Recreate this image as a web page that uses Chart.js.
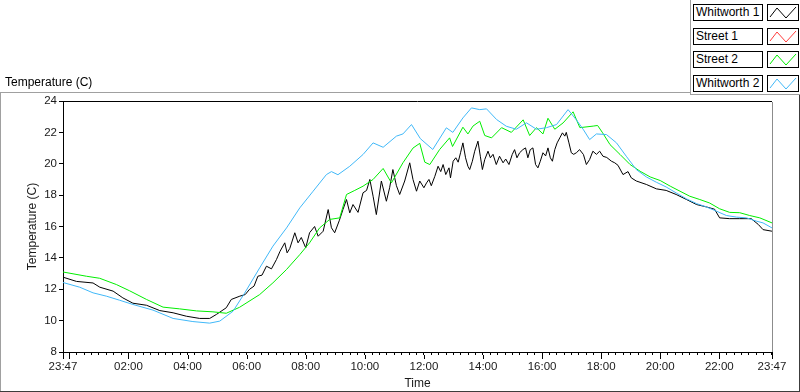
<!DOCTYPE html>
<html>
<head>
<meta charset="utf-8">
<script src="https://cdn.jsdelivr.net/npm/chart.js@4.4.0/dist/chart.umd.min.js"></script>
<style>
  body { margin: 0; background: #fff; font-family: "Liberation Sans", Arial, sans-serif; }
  #wrap { position: relative; width: 800px; height: 392px; overflow: hidden; }
  #c { position: absolute; left: 0; top: 0; }
  .ln { position: absolute; }
  .title { position: absolute; left: 5px; top: 75px; font-size: 12px; line-height: 14px; color: #000; }
  .name { position: absolute; left: 693px; width: 70px; height: 17px; box-sizing: border-box;
          border: 1px solid #000; font-size: 12px; line-height: 15px; padding-left: 2px; background: #fff; }
  .sample { position: absolute; left: 767px; width: 32px; height: 17px; box-sizing: border-box;
            border: 1px solid #000; background: #fff; }
</style>
</head>
<body>
<div id="wrap">
  <canvas id="c" width="800" height="392"></canvas>
  <div class="ln" style="left:0;top:92px;width:690px;height:1px;background:#a0a0a0"></div>
  <div class="ln" style="left:0;top:92px;width:1px;height:300px;background:#a0a0a0"></div>
  <div class="ln" style="left:690px;top:0;width:1px;height:95px;background:#a0a0a0"></div>
  <div class="ln" style="left:690px;top:94px;width:110px;height:1px;background:#a0a0a0"></div>
  <div class="ln" style="left:799px;top:95px;width:1px;height:297px;background:#3c3c3c"></div>
  <div class="ln" style="left:0;top:391px;width:800px;height:1px;background:#3c3c3c"></div>
  <div class="title">Temperature (C)</div>
  <div id="legend"></div>
</div>
<script>
// time axis is in hours since midnight; the record runs 23:47 -> 23:47
const startHour = -13 / 60;
const endHour = 23 + 47 / 60;

const seriesNames = ['Whitworth 1', 'Street 1', 'Street 2', 'Whitworth 2'];
const seriesColors = ['#000000', '#ff3c3c', '#00ee00', '#40b8f8'];

const xLabelHours = [startHour, 2, 4, 6, 8, 10, 12, 14, 16, 18, 20, 22, endHour];
const xLabels = ['23:47', '02:00', '04:00', '06:00', '08:00', '10:00', '12:00', '14:00', '16:00', '18:00', '20:00', '22:00', '23:47'];
const xMajorHours = [startHour, 0, 2, 4, 6, 8, 10, 12, 14, 16, 18, 20, 22, endHour];

const whitworth1Hours = [
  -0.217, 0.24, 0.8, 1.03, 1.48, 1.81, 2.15, 2.61, 3.06, 3.51, 3.96, 4.41, 4.75, 4.98, 5.31, 5.48, 5.77, 5.95,
  6.1, 6.25, 6.38, 6.52, 6.67, 6.84, 7.01, 7.13, 7.29, 7.37, 7.46, 7.63, 7.74, 7.85, 8.0, 8.13, 8.3, 8.42,
  8.59, 8.76, 8.87, 8.98, 9.14, 9.26, 9.38, 9.49, 9.6, 9.77, 9.94, 10.06, 10.17, 10.28, 10.39, 10.56, 10.73,
  10.84, 10.95, 11.07, 11.18, 11.35, 11.52, 11.63, 11.75, 11.86, 12.0, 12.09, 12.17, 12.25, 12.37, 12.48,
  12.57, 12.65, 12.74, 12.85, 12.9, 12.99, 13.08, 13.16, 13.24, 13.32, 13.41, 13.49, 13.55, 13.64, 13.72,
  13.83, 13.91, 13.98, 14.06, 14.17, 14.25, 14.34, 14.45, 14.56, 14.68, 14.77, 14.88, 14.99, 15.07, 15.15,
  15.24, 15.35, 15.44, 15.52, 15.6, 15.69, 15.78, 15.86, 15.94, 16.03, 16.12, 16.2, 16.28, 16.35, 16.43,
  16.51, 16.6, 16.69, 16.77, 16.82, 16.91, 16.99, 17.07, 17.16, 17.27, 17.4, 17.5, 17.61, 17.72, 17.84,
  17.95, 18.06, 18.19, 18.35, 18.46, 18.57, 18.74, 18.91, 19.02, 19.19, 19.53, 19.87, 20.2, 20.54, 20.89,
  21.23, 21.56, 21.84, 22.01, 22.35, 22.69, 23.08, 23.32, 23.48, 23.783
];
const whitworth1Temps = [
  12.77, 12.5, 12.4, 12.13, 11.88, 11.45, 11.11, 10.98, 10.64, 10.5, 10.28, 10.14, 10.14, 10.4, 10.82, 11.35, 11.56, 11.66,
  12.0, 12.2, 12.83, 12.9, 13.47, 13.3, 13.9, 14.42, 14.96, 14.32, 14.6, 15.6, 14.96, 15.3, 14.64, 15.6, 16.0, 15.38,
  15.7, 17.08, 15.92, 15.6, 16.4, 17.08, 17.72, 16.87, 17.4, 16.9, 18.15, 18.3, 19.0, 17.93, 16.76, 18.9, 17.61,
  18.47, 19.63, 18.6, 18.04, 18.9, 20.06, 19.0, 18.25, 18.9, 18.47, 18.78, 19.0, 18.6, 19.2, 19.84,
  19.5, 19.95, 19.31, 19.74, 19.1, 20.16, 20.38, 20.1, 20.7, 21.33, 20.38, 19.84, 19.63, 20.16, 20.8,
  21.44, 20.48, 19.63, 20.27, 20.8, 20.38, 20.6, 19.95, 20.48, 20.06, 20.3, 19.95, 20.59, 20.9, 20.38,
  20.7, 20.9, 21.01, 20.38, 20.9, 21.01, 19.95, 19.74, 20.16, 20.7, 20.5, 21.01, 20.38, 20.16, 20.9,
  21.33, 21.65, 21.97, 21.76, 22.0, 21.33, 20.7, 20.6, 20.7, 20.9, 20.59, 19.95, 20.27, 20.8, 20.6,
  20.8, 20.48, 20.4, 20.16, 20.06, 19.9, 19.31, 19.5, 19.1, 18.9, 18.68, 18.4, 18.3, 18.04, 17.72,
  17.4, 17.25, 17.1, 16.55, 16.5, 16.5, 16.5, 16.13, 15.8, 15.7
];

const street1Hours = [];
const street1Temps = [];

const street2Hours = [
  -0.217, 0.575, 1.025, 1.59, 2.04, 2.61, 3.17, 3.73, 4.3, 4.86, 5.31, 5.76, 6.44, 6.89, 7.35, 7.8, 8.13,
  8.47, 8.81, 9.15, 9.38, 9.66, 9.94, 10.28, 10.62, 10.9, 11.29, 11.63, 11.86, 12.03, 12.2, 12.53, 12.87,
  12.97, 13.32, 13.49, 13.66, 13.89, 14.06, 14.29, 14.63, 14.96, 15.36, 15.58, 15.81, 16.03, 16.2, 16.43,
  16.71, 17.05, 17.28, 17.73, 17.88, 18.05, 18.3, 18.64, 18.98, 19.32, 19.66, 20.0, 20.34, 20.67, 21.0,
  21.34, 21.67, 22.01, 22.35, 22.69, 23.03, 23.37, 23.783
];
const street2Temps = [
  13.1, 12.83, 12.7, 12.3, 11.9, 11.35, 10.86, 10.75, 10.62, 10.56, 10.47, 10.85, 11.66, 12.41, 13.26, 14.21, 14.96,
  15.91, 16.45, 16.55, 18.04, 18.3, 18.57, 19.0, 19.7, 18.78, 20.06, 21.0, 21.3, 20.1, 19.95, 20.9, 21.65,
  21.1, 22.33, 21.9, 22.4, 22.71, 21.8, 21.65, 22.3, 22.0, 22.8, 21.8, 22.3, 21.9, 22.9, 22.2,
  22.6, 23.31, 22.3, 22.4, 22.44, 21.97, 21.22, 20.59, 19.95, 19.52, 19.16, 18.93, 18.57, 18.25, 17.93,
  17.72, 17.5, 17.13, 16.9, 16.88, 16.7, 16.55, 16.23
];

const whitworth2Hours = [
  -0.217, 0.35, 0.8, 1.25, 1.7, 2.15, 2.83, 3.51, 4.18, 4.75, 5.09, 5.54, 5.93, 6.44, 6.89, 7.35, 7.8,
  8.25, 8.7, 8.87, 9.09, 9.49, 9.94, 10.28, 10.62, 11.07, 11.29, 11.58, 11.88, 12.3, 12.76, 12.98, 13.32,
  13.61, 13.89, 14.12, 14.46, 14.79, 15.13, 15.47, 15.81, 16.15, 16.49, 16.88, 17.16, 17.39, 17.61, 17.84,
  18.18, 18.52, 18.85, 19.19, 19.53, 19.87, 20.2, 20.54, 20.89, 21.23, 21.56, 21.9, 22.24, 22.58, 22.92,
  23.26, 23.48, 23.783
];
const whitworth2Temps = [
  12.43, 12.13, 11.77, 11.56, 11.3, 11.03, 10.67, 10.14, 9.94, 9.84, 9.97, 10.6, 11.75, 13.36, 14.75, 15.91, 17.19,
  18.25, 19.31, 19.5, 19.3, 19.84, 20.59, 21.33, 21.05, 21.76, 21.9, 22.5, 21.6, 20.91, 22.29, 22.0, 22.92,
  23.56, 23.45, 23.5, 22.82, 22.39, 22.2, 22.61, 22.2, 22.3, 22.5, 23.45, 22.8, 22.2, 21.54, 21.9,
  21.86, 21.33, 20.48, 19.63, 19.16, 18.82, 18.52, 18.14, 17.76, 17.46, 17.25, 16.98, 16.7, 16.6, 16.55,
  16.34, 16.23, 15.91
];

const yTicks = [8, 10, 12, 14, 16, 18, 20, 22, 24];

const seriesHours = [whitworth1Hours, street1Hours, street2Hours, whitworth2Hours];
const seriesTemps = [whitworth1Temps, street1Temps, street2Temps, whitworth2Temps];

const near = (a, b) => Math.abs(a - b) < 1e-6;

const axisFont = { family: '"Liberation Sans", Arial, sans-serif', size: 11.5 };
const titleFont = { family: '"Liberation Sans", Arial, sans-serif', size: 12 };

// LabVIEW style frame: black top, grey right, longer major ticks on time axis
const framePlugin = {
  id: 'frame',
  afterDraw(chart) {
    const { ctx, chartArea } = chart;
    const xs = chart.scales.x;
    ctx.save();
    ctx.lineWidth = 1;
    ctx.strokeStyle = '#000';
    ctx.beginPath();
    ctx.moveTo(chartArea.left, chartArea.top + 0.5);
    ctx.lineTo(chartArea.right, chartArea.top + 0.5);
    ctx.stroke();
    ctx.strokeStyle = '#8c8c8c';
    ctx.beginPath();
    ctx.moveTo(chartArea.right + 0.5, chartArea.top + 1);
    ctx.lineTo(chartArea.right + 0.5, chartArea.bottom);
    ctx.stroke();
    ctx.strokeStyle = '#000';
    ctx.beginPath();
    xMajorHours.forEach(h => {
      const px = Math.round(xs.getPixelForValue(h)) + 0.5;
      ctx.moveTo(px, chartArea.bottom + 3);
      ctx.lineTo(px, chartArea.bottom + 7);
    });
    ctx.stroke();
    ctx.restore();
  }
};

new Chart(document.getElementById('c'), {
  type: 'line',
  data: {
    datasets: seriesNames.map((name, i) => ({
      label: name,
      data: seriesHours[i].map((h, j) => ({ x: h, y: seriesTemps[i][j] })),
      borderColor: seriesColors[i],
      borderWidth: 1,
      pointRadius: 0,
      tension: 0,
      fill: false,
      order: 3 - i,
    })),
  },
  options: {
    responsive: false,
    animation: false,
    layout: { padding: { top: 101, right: 28, left: 0, bottom: 0 } },
    plugins: { legend: { display: false }, tooltip: { enabled: false } },
    scales: {
      x: {
        type: 'linear',
        min: startHour,
        max: endHour,
        afterBuildTicks: (scale) => {
          const ticks = [{ value: startHour }];
          for (let h = 0; h < 24; h += 0.25) ticks.push({ value: h });
          ticks.push({ value: endHour });
          scale.ticks = ticks;
        },
        afterFit: (scale) => { scale.height = 40; },
        ticks: {
          autoSkip: false,
          maxRotation: 0,
          padding: 5,
          color: '#1a1a1a',
          font: axisFont,
          callback: (v) => {
            const k = xLabelHours.findIndex(h => near(h, v));
            return k >= 0 ? xLabels[k] : '';
          },
        },
        grid: { drawOnChartArea: false, tickLength: 3, color: '#000' },
        border: { color: '#000' },
        title: { display: true, text: 'Time', color: '#1a1a1a', font: titleFont, padding: { top: 0, bottom: 1 } },
      },
      y: {
        min: 8,
        max: 24,
        afterBuildTicks: (scale) => { scale.ticks = yTicks.map(v => ({ value: v })); },
        afterFit: (scale) => { scale.width = 63; },
        ticks: { padding: 2, color: '#1a1a1a', font: axisFont },
        grid: { drawOnChartArea: false, tickLength: 4, color: '#000' },
        border: { color: '#000' },
        title: { display: true, text: 'Temperature (C)', color: '#1a1a1a', font: titleFont, padding: { top: 25, bottom: 0 } },
      },
    },
  },
  plugins: [framePlugin],
});

// legend boxes on the top right
const legend = document.getElementById('legend');
const rowTops = [4, 28, 51, 75];
seriesNames.forEach((name, i) => {
  const box = document.createElement('div');
  box.className = 'name';
  box.style.top = rowTops[i] + 'px';
  box.textContent = name;
  legend.appendChild(box);
  const s = document.createElementNS('http://www.w3.org/2000/svg', 'svg');
  s.setAttribute('class', 'sample');
  s.setAttribute('viewBox', '0 0 30 15');
  s.style.top = rowTops[i] + 'px';
  s.innerHTML = '<polyline points="2,12 9,3 18,13 28,2" fill="none" stroke="' + seriesColors[i] + '" stroke-width="1"/>';
  legend.appendChild(s);
});
</script>
</body>
</html>
